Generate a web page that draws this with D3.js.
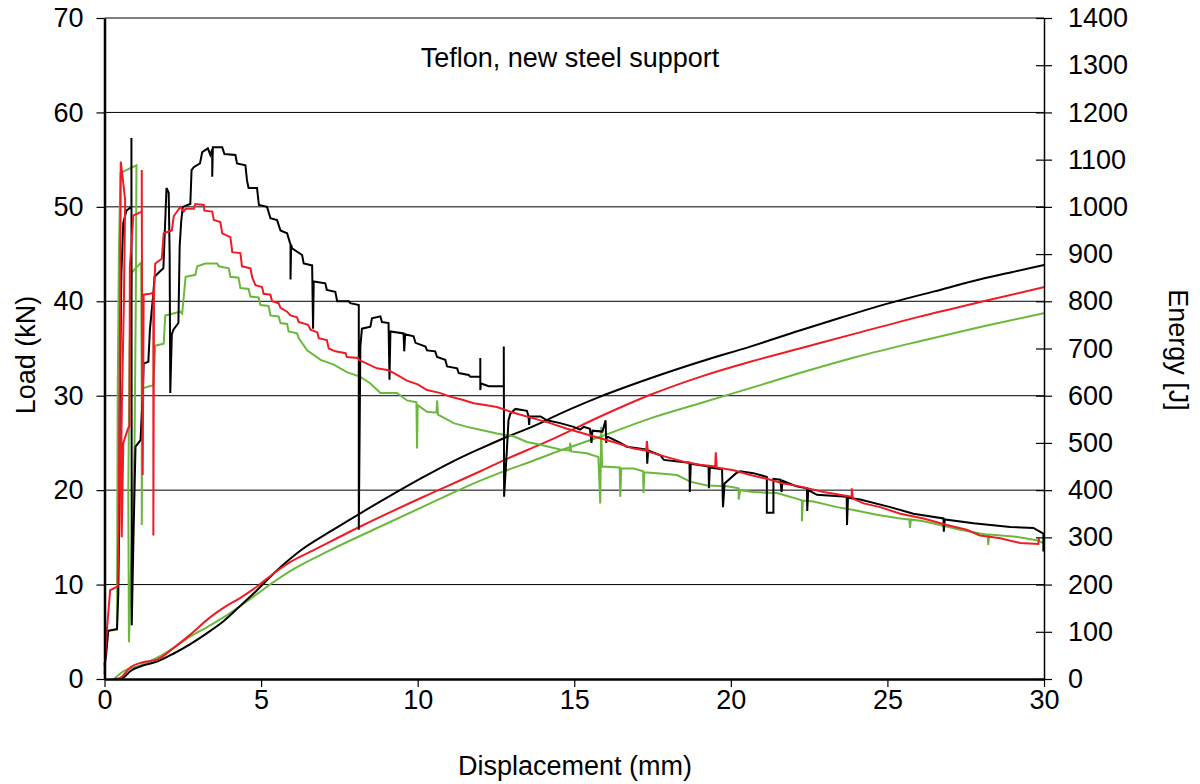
<!DOCTYPE html>
<html>
<head>
<meta charset="utf-8">
<script src="https://cdn.jsdelivr.net/npm/d3@7"></script>
<style>
html,body{margin:0;padding:0;background:#fff;}
svg{display:block;}
text{font-family:"Liberation Sans",Arial,sans-serif;fill:#000;}
</style>
</head>
<body>
<svg id="chart" width="1200" height="784"></svg>
<script>
// ---------- data ----------
const chartTitle = "Teflon, new steel support";
const xLabel = "Displacement (mm)";
const yLeftLabel = "Load (kN)";
const yRightLabel = "Energy [J]";
const dispTicks = [0, 5, 10, 15, 20, 25, 30];
const loadTicks = [0, 10, 20, 30, 40, 50, 60, 70];
const energyTicks = [0,100,200,300,400,500,600,700,800,900,1000,1100,1200,1300,1400];
const seriesNames = ["black", "red", "green"];

// load curves: [displacement mm, load kN]
const blackLoad = [
[0,1.5],[0.05,2.5],[0.12,5.1],[0.4,5.3],[0.44,9.0],[0.47,16.7],[0.49,30],[0.52,37.7],[0.54,43],[0.6,48.3],[0.7,49.6],[0.86,50],[0.86,57.3],[0.87,5.7],[0.93,15.8],[0.99,24.6],[1.15,25.3],[1.22,30],[1.25,33.4],[1.4,33.6],[1.45,37],[1.55,40.5],[1.6,42.6],[1.75,43.1],[1.88,43.5],[1.98,52],[2.05,51.5],[2.08,45],[2.1,30.3],[2.15,36.5],[2.2,37],[2.36,37.7],[2.4,45.8],[2.45,48.5],[2.5,50],[2.74,50.3],[2.78,53.9],[2.85,54.2],[3.05,54.6],[3.12,55.8],[3.3,56.2],[3.38,55.5],[3.44,56.1],[3.44,53.2],[3.46,56.3],[3.76,56.3],[3.83,55.6],[4.18,55.5],[4.23,54.6],[4.5,54.4],[4.55,52.8],[4.6,52],[4.87,52],[4.93,50.2],[5.19,50],[5.3,48.8],[5.51,48.6],[5.62,47.5],[5.83,47.2],[5.94,46],[5.94,42.3],[5.96,46],[5.99,45.6],[6.31,44.9],[6.36,44],[6.63,43.8],[6.66,37.1],[6.68,42.1],[7.05,41.9],[7.1,41.2],[7.37,41],[7.43,40],[7.8,40],[7.85,39.8],[8.12,39.6],[8.12,15.8],[8.17,35.2],[8.22,37.1],[8.49,37.3],[8.54,38.2],[8.81,38.4],[8.86,37.8],[9.07,37.7],[9.1,31.7],[9.13,36.8],[9.55,36.6],[9.57,34.7],[9.6,36.5],[9.87,36.3],[9.93,35.6],[10.25,35.2],[10.3,34.8],[10.56,34.7],[10.62,34.1],[10.88,33.8],[10.94,33.1],[11.26,32.9],[11.31,32.4],[11.63,32.2],[11.68,32.0],[12.0,32.0],[12.0,34],[12.0,30.6],[12.02,31.3],[12.27,31.0],[12.75,31.0],[12.75,35.2],[12.76,19.3],[12.85,24.3],[12.9,27.4],[12.96,28.1],[13.12,28.6],[13.49,28.4],[13.54,27.8],[13.56,26.9],[13.58,27.8],[13.92,27.8],[14.13,27.4],[14.55,27.1],[14.98,26.7],[15.19,26.4],[15.3,26.7],[15.5,26.5],[15.55,25.0],[15.58,26.3],[15.9,26.2],[16.0,27.4],[16.02,25.0],[16.04,25.7],[16.47,25.0],[16.68,24.6],[17.32,24.3],[17.33,22.8],[17.36,24.2],[17.75,23.7],[17.86,23.2],[18.38,23.0],[18.68,22.9],[18.69,19.8],[18.72,22.8],[19.29,22.5],[19.3,20.2],[19.33,22.4],[19.72,22.2],[19.75,18.2],[19.8,20.7],[20.17,21.8],[20.3,22.0],[20.72,21.8],[21.15,21.4],[21.15,17.6],[21.36,17.6],[21.36,21.2],[21.58,21.1],[21.62,19.8],[21.65,21.0],[22.1,20.4],[22.43,20.2],[22.44,17.8],[22.47,20.0],[22.75,19.5],[23.7,19.3],[23.71,16.3],[23.74,19.2],[24.13,19.0],[25.09,18.2],[25.83,17.5],[26.79,17.0],[26.8,15.6],[26.83,16.9],[27.75,16.5],[28.92,16.1],[29.66,16.0],[29.98,15.4],[29.98,13.5]
];
const redLoad = [
[0,0.5],[0.03,2.5],[0.08,5.3],[0.18,9.4],[0.42,9.8],[0.45,15.5],[0.47,25],[0.5,40],[0.52,54.8],[0.6,52.5],[0.66,50.7],[0.62,40],[0.56,30],[0.52,21],[0.55,15],[0.6,25],[0.75,26.5],[0.8,26.8],[0.81,43.7],[0.86,46],[0.92,49.1],[1.0,49.2],[1.19,49.5],[1.19,53.9],[1.2,35],[1.22,21.6],[1.25,40.7],[1.45,40.8],[1.56,40.9],[1.56,15.2],[1.58,40.9],[1.62,44.0],[1.83,44.5],[1.89,47.2],[2.15,47.5],[2.21,49.0],[2.42,50.0],[2.53,49.5],[2.59,49.8],[2.85,49.8],[2.9,50.3],[3.17,50.2],[3.19,49.6],[3.44,49.5],[3.49,48.6],[3.7,48.4],[3.76,47.2],[4.02,46.8],[4.08,45.2],[4.34,45.1],[4.39,43.7],[4.66,43.5],[4.72,42.5],[4.82,41.7],[5.03,41.5],[5.08,40.8],[5.3,40.7],[5.35,40.0],[5.56,39.8],[5.62,39.3],[5.83,38.9],[5.94,38.5],[6.15,38.3],[6.2,37.8],[6.5,37.5],[6.58,37.0],[6.8,36.7],[6.84,36.1],[7.1,35.9],[7.16,35.0],[7.37,34.7],[7.7,34.5],[7.74,34.1],[8.1,34.0],[8.12,33.8],[8.38,33.4],[8.7,32.9],[9.07,32.7],[9.34,32.2],[9.66,31.6],[10.0,31.2],[10.3,30.6],[10.7,30.3],[11.04,29.9],[11.4,29.6],[11.79,29.2],[12.2,29.0],[12.53,28.8],[13.06,28.2],[13.7,27.6],[14.23,27.1],[14.77,26.5],[15.3,26.0],[15.83,25.5],[16.36,25.0],[16.9,24.4],[17.3,24.2],[17.32,25.2],[17.35,24.1],[17.96,23.5],[18.49,23.0],[19.02,22.7],[19.5,22.5],[19.52,24.0],[19.55,22.4],[20.09,22.1],[20.62,21.6],[21.15,21.2],[21.68,20.7],[22.2,20.4],[22.96,19.8],[23.86,19.3],[23.86,20.2],[23.9,19.1],[24.24,18.6],[24.77,18.2],[25.41,17.5],[26.15,17.0],[26.9,16.3],[27.53,15.8],[27.96,15.2],[28.6,14.9],[29.24,14.4],[29.82,14.3],[29.84,14.9]
];
const greenLoad = [
[0,1.2],[0.05,3.5],[0.1,5.1],[0.4,5.2],[0.42,29.7],[0.46,45],[0.51,53.6],[1.02,54.4],[1.0,40],[0.96,25],[0.78,3.9],[0.76,20],[0.8,35],[0.87,43.0],[0.99,43.5],[1.17,44.1],[1.19,30],[1.19,16.3],[1.21,30.8],[1.56,31.1],[1.62,35.3],[1.89,35.5],[1.94,38.5],[2.42,38.9],[2.48,38.7],[2.59,42.6],[2.9,42.8],[2.96,43.7],[3.22,44.0],[3.6,44.0],[3.65,43.7],[3.97,43.5],[4.02,42.6],[4.28,42.5],[4.34,41.4],[4.6,41.3],[4.66,40.5],[4.92,40.4],[4.98,39.6],[5.24,39.5],[5.3,38.5],[5.56,38.4],[5.62,37.7],[5.83,37.6],[5.88,36.8],[6.15,36.6],[6.2,36.1],[6.47,34.8],[6.9,33.8],[7.32,33.3],[7.74,32.5],[8.17,32.0],[8.49,31.3],[8.81,30.3],[9.34,30.3],[9.66,29.5],[9.96,29.3],[9.98,24.4],[10.0,29.0],[10.3,28.3],[10.6,28.2],[10.62,29.5],[10.65,28],[11.15,27.1],[11.58,26.7],[12.0,26.4],[12.53,26.0],[13.06,25.7],[13.49,25.1],[13.92,24.8],[14.55,24.3],[14.85,24.2],[14.87,25],[14.9,24.1],[15.4,23.9],[15.77,23.5],[15.83,18.6],[15.86,26.7],[15.89,22.5],[16.45,22.4],[16.47,19.3],[16.5,22.3],[16.9,22.3],[17.2,22.0],[17.21,19.7],[17.24,21.9],[17.64,21.8],[18.28,21.6],[18.7,20.9],[19.24,20.5],[19.88,20.4],[20.25,20.2],[20.25,19.0],[20.3,20.0],[20.72,19.8],[21.47,19.7],[22.2,19.0],[22.27,18.9],[22.27,16.7],[22.3,18.9],[22.64,18.8],[23.39,18.2],[23.92,17.9],[24.66,17.4],[25.41,17.0],[25.7,16.9],[25.72,16.0],[25.75,16.9],[26.15,16.7],[26.68,16.3],[27.32,15.8],[27.96,15.4],[28.2,15.3],[28.22,14.2],[28.25,15.3],[29.03,15.1],[29.77,14.7],[29.98,14.4]
];

// energy curves: [displacement mm, energy J]
const blackEnergy = [
[0.45,0],[0.6,3],[0.83,17],[1.2,28],[1.68,37],[2.21,54],[2.74,74],[3.38,102],[3.81,123],[4.34,155],[4.87,188],[5.41,224],[5.94,255],[6.26,272],[7.2,312],[8.17,351],[9.2,391],[10.19,428],[11.1,460],[12.0,488],[12.75,510],[13.92,542],[14.23,552],[15.83,598],[17.43,637],[19.02,672],[20.62,704],[22.2,738],[23.5,765],[25,795],[26.5,821],[28,847],[29,862],[30,877]
];
const redEnergy = [
[0.3,0],[0.5,2.5],[0.83,25],[1.2,35],[1.68,41],[2.21,66],[2.74,94],[3.38,131],[3.81,151],[4.34,172],[4.87,196],[5.41,224],[5.94,248],[6.68,273],[8.17,323],[10.19,386],[12.0,440],[12.64,460],[13.92,497],[14.23,506],[15.83,556],[17.43,602],[19.02,640],[20.62,672],[22.2,700],[24,732],[26,767],[28,799],[30,830]
];
const greenEnergy = [
[0.3,0],[0.62,17],[1.15,29],[1.68,45],[2.21,66],[2.74,90],[3.28,110],[3.81,131],[4.34,155],[4.87,180],[5.41,206],[5.94,229],[7.21,273],[8.81,323],[10.4,372],[12.0,420],[12.64,437],[13.92,468],[14.23,476],[15.83,513],[17.43,552],[19.02,584],[20.62,616],[22.2,648],[24,682],[26,715],[28,746],[30,775]
];

const seriesColors = {black: "#000000", red: "#ee1c24", green: "#6cb83c"};

// ---------- drawing ----------
const svg = d3.select("#chart");
const mLeft = 104.5, mRight = 1044, mTop = 18, mBottom = 679;
const FONT = 27;

const x = d3.scaleLinear().domain([0, 30]).range([mLeft, mRight]);
const yL = d3.scaleLinear().domain([0, 70]).range([mBottom, mTop]);
const yE = d3.scaleLinear().domain([0, 1400]).range([mBottom, mTop]);

// gridlines
svg.append("g").selectAll("line").data(loadTicks.filter(v => v > 0)).join("line")
  .attr("x1", mLeft).attr("x2", mRight)
  .attr("y1", d => yL(d)).attr("y2", d => yL(d))
  .attr("stroke", "#000").attr("stroke-width", 1);

// lines
const loadLine = d3.line().x(d => x(d[0])).y(d => yL(d[1]));
const energyLine = d3.line().x(d => x(d[0])).y(d => yE(d[1])).curve(d3.curveMonotoneX);

const plot = svg.append("g");
const energies = {black: blackEnergy, red: redEnergy, green: greenEnergy};
const loads = {black: blackLoad, red: redLoad, green: greenLoad};
["green", "black", "red"].forEach(s => {
  plot.append("path").datum(energies[s]).attr("d", energyLine)
    .attr("fill", "none").attr("stroke", seriesColors[s]).attr("stroke-width", 2);
});
["green", "black", "red"].forEach(s => {
  plot.append("path").datum(loads[s]).attr("d", loadLine)
    .attr("fill", "none").attr("stroke", seriesColors[s]).attr("stroke-width", 2)
    .attr("stroke-linejoin", "miter");
});

// axes
const gl = svg.append("g").attr("transform", `translate(${mLeft},0)`)
  .call(d3.axisLeft(yL).tickValues(loadTicks).tickSize(8).tickSizeOuter(0).tickPadding(13));
const gb = svg.append("g").attr("transform", `translate(0,${mBottom})`)
  .call(d3.axisBottom(x).tickValues(dispTicks).tickSize(8).tickSizeOuter(0).tickPadding(3));
const gr = svg.append("g").attr("transform", `translate(${mRight},0)`)
  .call(d3.axisRight(yE).tickValues(energyTicks).tickFormat(d3.format("d"))
    .tickSize(8).tickSizeOuter(0).tickPadding(16));
gr.selectAll(".tick line").attr("x1", -8).attr("x2", 8);

[gl, gb, gr].forEach(g => {
  g.attr("font-family", null).attr("font-size", null);
  g.selectAll("text").style("font-size", FONT + "px");
  g.selectAll(".tick line").attr("stroke", "#000").attr("stroke-width", 1.2);
});
gl.select(".domain").attr("stroke", "#000").attr("stroke-width", 2.5);
gb.select(".domain").attr("stroke", "#000").attr("stroke-width", 2.5);
gr.select(".domain").attr("stroke", "#000").attr("stroke-width", 1.5);

// titles
svg.append("text").attr("x", 570).attr("y", 67).attr("text-anchor", "middle")
  .style("font-size", "27px").text(chartTitle);
svg.append("text").attr("x", 575).attr("y", 775).attr("text-anchor", "middle")
  .style("font-size", FONT + "px").text(xLabel);
svg.append("text").attr("transform", "translate(35,355) rotate(-90)").attr("text-anchor", "middle")
  .style("font-size", FONT + "px").text(yLeftLabel);
svg.append("text").attr("transform", "translate(1169,350) rotate(90)").attr("text-anchor", "middle")
  .style("font-size", FONT + "px").text(yRightLabel);
</script>
</body>
</html>
